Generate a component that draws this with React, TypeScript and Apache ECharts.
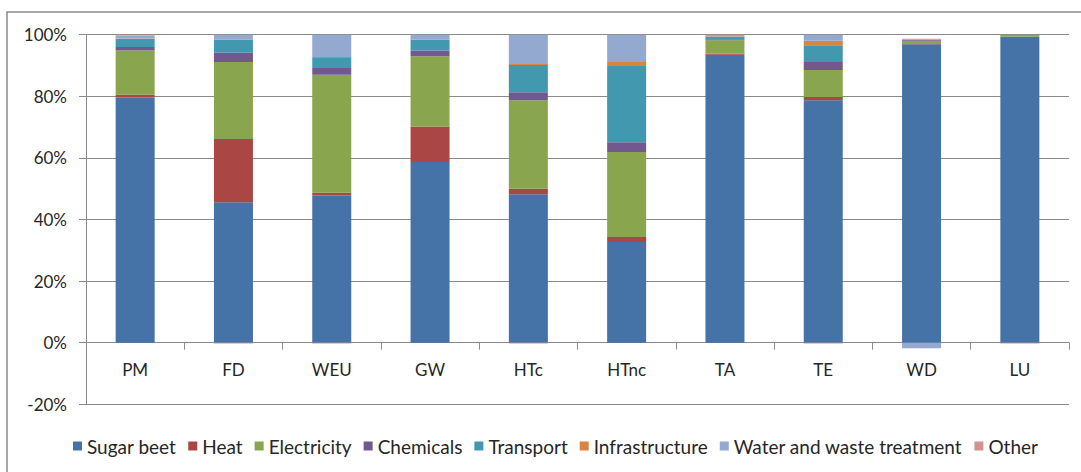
import React, { useEffect, useRef } from "react";
import * as echarts from "echarts";

const categories = ["PM", "FD", "WEU", "GW", "HTc", "HTnc", "TA", "TE", "WD", "LU"];
const seriesNames = [
  "Sugar beet",
  "Heat",
  "Electricity",
  "Chemicals",
  "Transport",
  "Infrastructure",
  "Water and waste treatment",
  "Other",
];
const sugarBeet = [79.6, 45.6, 47.8, 58.7, 48.2, 32.7, 93.5, 78.7, 96.9, 99.3];
const heat = [0.9, 20.5, 0.9, 11.5, 1.8, 1.6, 0.3, 1.1, 0.1, 0.0];
const electricity = [14.4, 25.0, 38.3, 22.8, 28.7, 27.6, 4.4, 8.7, 1.0, 0.7];
const chemicals = [1.1, 3.0, 2.2, 1.9, 2.6, 3.2, 0.3, 2.6, 0.4, 0.0];
const transport = [2.7, 4.3, 3.2, 3.5, 8.9, 24.7, 0.8, 5.5, 0.0, 0.0];
const infrastructure = [0.1, 0.1, 0.4, 0.1, 0.3, 1.3, 0.2, 1.4, 0.0, 0.0];
const waterWaste = [0.9, 1.5, 7.2, 1.5, 9.5, 8.9, 0.1, 2.0, -1.8, 0.0];
const other = [0.3, -0.3, -0.3, 0.0, -0.3, 0.0, 0.4, -0.3, 0.3, -0.3];
const yTicks = [-20, 0, 20, 40, 60, 80, 100];

const seriesData = [sugarBeet, heat, electricity, chemicals, transport, infrastructure, waterWaste, other];
const colors = ["#4572A7", "#AA4643", "#89A54E", "#71588F", "#4198AF", "#DB843D", "#93A9CF", "#D19392"];

const FONT = "Lato, 'Open Sans', sans-serif";

const GRID_TOP = 34.7;
const GRID_BOTTOM = 67.7;
const HEIGHT = 472;

export default function App() {
  const ref = useRef<HTMLDivElement>(null);
  useEffect(() => {
    if (!ref.current) return;
    const chart = echarts.init(ref.current, null, { renderer: "svg" });
    const yMin = yTicks[0];
    const yMax = yTicks[yTicks.length - 1];
    const plotH = HEIGHT - GRID_TOP - GRID_BOTTOM;
    // shift the category axis up from the bottom of the grid to the zero line
    const zeroOffset = -(plotH * (0 - yMin)) / (yMax - yMin);
    chart.setOption({
      animation: false,
      backgroundColor: "#ffffff",
      color: colors,
      textStyle: { fontFamily: FONT },
      graphic: [
        {
          type: "rect",
          shape: { x: 7, y: 12, width: 1090, height: 480 },
          style: { fill: "none", stroke: "#8a8a8a", lineWidth: 1.5 },
          silent: true,
          z: -1,
        },
      ],
      grid: { left: 86, right: 12, top: GRID_TOP, bottom: GRID_BOTTOM, containLabel: false },
      legend: {
        data: seriesNames,
        left: 68,
        top: 431,
        itemWidth: 9,
        itemHeight: 9,
        itemGap: 12,
        icon: "rect",
        textStyle: { fontSize: 19, lineHeight: 20, color: "#262626", fontFamily: FONT },
      },
      xAxis: {
        type: "category",
        data: categories,
        offset: zeroOffset,
        axisLine: { onZero: false, lineStyle: { color: "#8a8a8a", width: 1 } },
        axisTick: { show: true, length: 7, lineStyle: { color: "#8a8a8a" } },
        axisLabel: { fontSize: 17, color: "#262626", margin: 18, fontFamily: FONT },
        splitLine: { show: false },
      },
      yAxis: {
        type: "value",
        min: yMin,
        max: yMax,
        interval: 20,
        axisLine: { show: true, lineStyle: { color: "#8a8a8a", width: 1 } },
        axisTick: { show: true, length: 7, lineStyle: { color: "#8a8a8a" } },
        axisLabel: {
          fontSize: 17,
          color: "#262626",
          margin: 19,
          fontFamily: FONT,
          formatter: (v: number) => `${v}%`,
        },
        splitLine: { show: true, lineStyle: { color: "#8a8a8a", width: 1 } },
      },
      series: seriesNames.map((name, i) => ({
        name,
        type: "bar",
        stack: "total",
        barWidth: 39,
        data: seriesData[i],
        itemStyle: { color: colors[i] },
      })),
    });
    return () => chart.dispose();
  }, []);
  return (
    <div
      ref={ref}
      style={{ position: "fixed", left: 0, top: 0, width: 1081, height: 472 }}
    />
  );
}
